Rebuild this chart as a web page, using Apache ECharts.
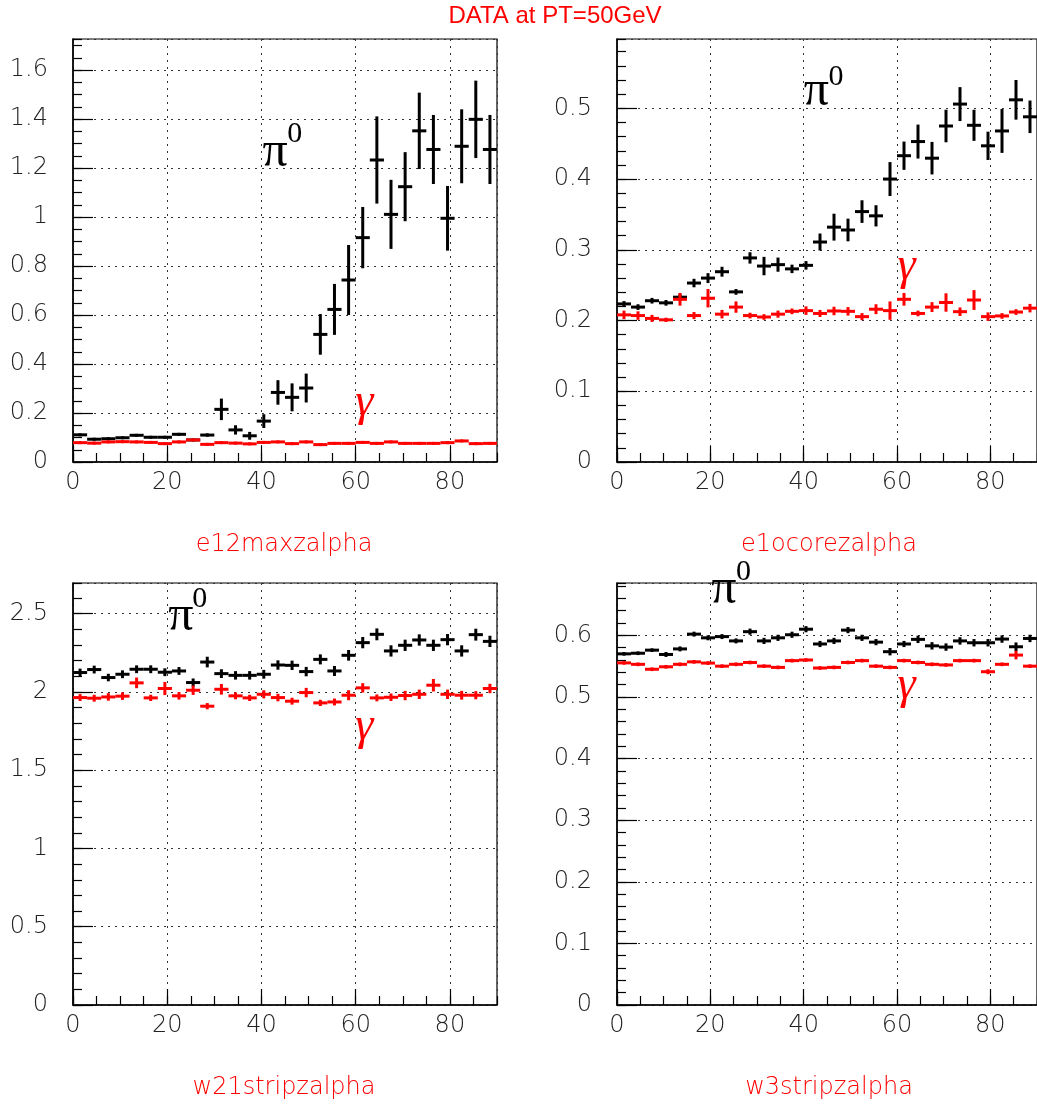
<!DOCTYPE html>
<html>
<head>
<meta charset="utf-8">
<script src="https://cdn.jsdelivr.net/npm/echarts@6/dist/echarts.min.js"></script>
<style>
html,body{margin:0;padding:0;background:#fff;}
#main{width:1037px;height:1106px;}
</style>
</head>
<body>
<div id="main"></div>
<script>
// ---- data ----
const xBins = [1.5,4.5,7.5,10.5,13.5,16.5,19.5,22.5,25.5,28.5,31.5,34.5,37.5,40.5,43.5,46.5,49.5,52.5,55.5,58.5,61.5,64.5,67.5,70.5,73.5,76.5,79.5,82.5,85.5,88.5];
const binHalfWidth = 1.5;

// e12maxzalpha
const e12Pi     = [0.111,0.093,0.095,0.099,0.109,0.101,0.101,0.113,0.090,0.110,0.215,0.131,0.107,0.167,0.284,0.264,0.302,0.521,0.623,0.743,0.916,1.233,1.011,1.124,1.352,1.276,0.995,1.289,1.399,1.276];
const e12PiErr  = [0.006,0.005,0.005,0.006,0.006,0.005,0.005,0.006,0.005,0.007,0.044,0.019,0.016,0.028,0.050,0.057,0.059,0.083,0.104,0.143,0.125,0.178,0.141,0.141,0.156,0.141,0.132,0.151,0.158,0.141];
const e12Gam    = [0.079,0.077,0.082,0.083,0.082,0.080,0.075,0.082,0.090,0.072,0.079,0.077,0.074,0.080,0.082,0.075,0.082,0.071,0.076,0.076,0.080,0.076,0.082,0.076,0.076,0.076,0.079,0.086,0.075,0.076];
const e12GamErr = [0.004,0.004,0.004,0.004,0.004,0.004,0.004,0.004,0.004,0.004,0.004,0.004,0.004,0.004,0.004,0.004,0.004,0.004,0.004,0.004,0.004,0.004,0.004,0.004,0.004,0.004,0.004,0.004,0.004,0.004];

// e1ocorezalpha
const e1oPi     = [0.2235,0.219,0.228,0.225,0.233,0.253,0.260,0.269,0.2405,0.2885,0.277,0.279,0.273,0.278,0.311,0.332,0.328,0.354,0.348,0.400,0.433,0.453,0.4295,0.475,0.506,0.476,0.447,0.468,0.512,0.488];
const e1oPiErr  = [0.004,0.004,0.004,0.004,0.005,0.006,0.007,0.007,0.004,0.008,0.013,0.010,0.006,0.006,0.012,0.019,0.016,0.016,0.015,0.024,0.020,0.024,0.023,0.023,0.024,0.022,0.020,0.031,0.028,0.023];
const e1oGam    = [0.208,0.207,0.203,0.201,0.230,0.207,0.2315,0.209,0.219,0.207,0.205,0.209,0.213,0.214,0.210,0.2135,0.213,0.2055,0.216,0.214,0.230,0.210,0.219,0.2255,0.2125,0.229,0.2055,0.2065,0.212,0.2175];
const e1oGamErr = [0.006,0.006,0.005,0.003,0.009,0.005,0.013,0.006,0.008,0.004,0.004,0.005,0.004,0.006,0.005,0.006,0.006,0.005,0.007,0.013,0.009,0.004,0.007,0.013,0.006,0.014,0.006,0.004,0.004,0.006];

// w21stripzalpha
const w21Pi     = [2.124,2.143,2.092,2.113,2.145,2.145,2.126,2.134,2.060,2.191,2.117,2.106,2.106,2.113,2.172,2.170,2.130,2.208,2.134,2.234,2.315,2.368,2.262,2.298,2.332,2.298,2.334,2.262,2.366,2.323];
const w21PiErr  = [0.025,0.025,0.024,0.025,0.025,0.025,0.025,0.025,0.026,0.034,0.028,0.027,0.027,0.028,0.030,0.030,0.030,0.032,0.032,0.034,0.036,0.038,0.036,0.036,0.036,0.036,0.036,0.036,0.038,0.036];
const w21Gam    = [1.964,1.960,1.968,1.973,2.058,1.962,2.022,1.975,2.011,1.909,2.017,1.975,1.962,1.985,1.964,1.941,1.996,1.930,1.936,1.979,2.026,1.962,1.966,1.977,1.985,2.043,1.985,1.979,1.979,2.022];
const w21GamErr = [0.022,0.022,0.024,0.024,0.034,0.020,0.042,0.024,0.030,0.020,0.034,0.022,0.020,0.026,0.024,0.022,0.030,0.020,0.022,0.032,0.030,0.022,0.024,0.030,0.030,0.040,0.030,0.028,0.026,0.030];

// w3stripzalpha
const w3Pi      = [0.570,0.571,0.576,0.569,0.578,0.602,0.596,0.598,0.591,0.606,0.591,0.596,0.601,0.610,0.586,0.591,0.6085,0.596,0.589,0.5735,0.586,0.5935,0.583,0.581,0.591,0.588,0.588,0.594,0.5815,0.595];
const w3PiErr   = [0.003,0.003,0.003,0.004,0.004,0.004,0.004,0.004,0.004,0.005,0.005,0.005,0.005,0.005,0.005,0.005,0.005,0.005,0.005,0.006,0.005,0.006,0.006,0.006,0.006,0.006,0.006,0.006,0.007,0.006];
const w3Gam     = [0.5553,0.553,0.545,0.549,0.553,0.557,0.555,0.550,0.553,0.556,0.550,0.548,0.559,0.560,0.547,0.548,0.556,0.559,0.550,0.548,0.559,0.556,0.553,0.552,0.559,0.559,0.541,0.553,0.568,0.550];
const w3GamErr  = [0.003,0.003,0.003,0.003,0.003,0.003,0.003,0.003,0.003,0.003,0.003,0.003,0.003,0.003,0.003,0.003,0.003,0.003,0.003,0.003,0.003,0.003,0.003,0.003,0.003,0.003,0.004,0.003,0.007,0.003];

// axes
const xMin = 0, xMax = 90, xMajor = 20, xMinor = 5;
const yMaxs   = [1.727, 0.598, 2.696, 0.685];
const yMajors = [0.2, 0.1, 0.5, 0.1];
const yMinors = [0.05, 0.02, 0.1, 0.02];

// text
const mainTitle = 'DATA at PT=50GeV';
const panelTitles = ['e12maxzalpha', 'e1ocorezalpha', 'w21stripzalpha', 'w3stripzalpha'];
// annotation anchors (data coords: left edge, glyph centre)
const piPos  = [[40.2, 1.245], [40.0, 0.517], [20.2, 2.451], [20.2, 0.667]];
const supPos = [[45.5, 1.339], [45.3, 0.5446], [25.3, 2.591], [25.5, 0.7026]];
const gamPos = [[59.9, 0.224], [60.1, 0.270], [59.9, 1.749], [60.1, 0.5115]];

// ---- chart ----
const panels = [
  {pi: e12Pi, piErr: e12PiErr, gam: e12Gam, gamErr: e12GamErr},
  {pi: e1oPi, piErr: e1oPiErr, gam: e1oGam, gamErr: e1oGamErr},
  {pi: w21Pi, piErr: w21PiErr, gam: w21Gam, gamErr: w21GamErr},
  {pi: w3Pi,  piErr: w3PiErr,  gam: w3Gam,  gamErr: w3GamErr}
];
const grids = [
  {left: 73,  top: 39,  width: 424, height: 423},
  {left: 617, top: 39,  width: 424, height: 423},
  {left: 73,  top: 583, width: 424, height: 422},
  {left: 617, top: 583, width: 424, height: 422}
];

const labelFont = {fontFamily: 'DejaVu Sans', fontSize: 24, fontWeight: 200, color: '#222'};
const gridLine = {show: true, lineStyle: {color: '#333', width: 1, type: [2, 5]}};

const xAxes = [], yAxes = [], series = [];
function build(values, errs) {
  return xBins.map((x, i) => [x, values[i], errs[i]]);
}
function renderErr(params, api) {
  const x = api.value(0), y = api.value(1), e = api.value(2);
  const color = api.visual('color');
  const l = api.coord([x - binHalfWidth, y]);
  const r = api.coord([x + binHalfWidth, y]);
  const t = api.coord([x, y + e]);
  const b = api.coord([x, y - e]);
  const st = {stroke: color, lineWidth: 3};
  return {type: 'group', children: [
    {type: 'line', shape: {x1: l[0], y1: l[1], x2: r[0], y2: r[1]}, style: st},
    {type: 'line', shape: {x1: t[0], y1: Math.min(t[1], l[1] - 1.5), x2: b[0], y2: Math.max(b[1], l[1] + 1.5)}, style: st}
  ]};
}

panels.forEach((p, k) => {
  xAxes.push({
    gridIndex: k, type: 'value', min: xMin, max: xMax, interval: xMajor, position: 'bottom',
    axisLine: {show: true, onZero: false, lineStyle: {color: '#000', width: 1.5}},
    axisTick: {show: true, inside: true, length: 16, lineStyle: {color: '#000', width: 1.2}},
    axisLabel: Object.assign({showMaxLabel: false, margin: 9}, labelFont),
    splitLine: gridLine
  });
  xAxes.push({
    gridIndex: k, type: 'value', min: xMin, max: xMax, interval: xMinor, position: 'bottom',
    axisLine: {show: false, onZero: false},
    axisTick: {show: true, inside: true, length: 9, lineStyle: {color: '#000', width: 1.2}},
    axisLabel: {show: false}, splitLine: {show: false}
  });
  yAxes.push({
    gridIndex: k, type: 'value', min: 0, max: yMaxs[k], interval: yMajors[k], position: 'left',
    axisLine: {show: true, onZero: false, lineStyle: {color: '#000', width: 1.5}},
    axisTick: {show: true, inside: true, length: 20, lineStyle: {color: '#000', width: 1.2}},
    axisLabel: Object.assign({showMaxLabel: false, margin: 25}, labelFont),
    splitLine: gridLine
  });
  yAxes.push({
    gridIndex: k, type: 'value', min: 0, max: yMaxs[k], interval: yMinors[k], position: 'left',
    axisLine: {show: false, onZero: false},
    axisTick: {show: true, inside: true, length: 9, lineStyle: {color: '#000', width: 1.2}},
    axisLabel: {show: false}, splitLine: {show: false}
  });
  series.push({
    type: 'custom', name: 'pi0', xAxisIndex: 2 * k, yAxisIndex: 2 * k, clip: true,
    itemStyle: {color: '#000'}, renderItem: renderErr, data: build(p.pi, p.piErr), animation: false
  });
  series.push({
    type: 'custom', name: 'gamma', xAxisIndex: 2 * k, yAxisIndex: 2 * k, clip: true,
    itemStyle: {color: '#ff0000'}, renderItem: renderErr, data: build(p.gam, p.gamErr), animation: false
  });
});

const chart = echarts.init(document.getElementById('main'), null, {renderer: 'canvas'});
chart.setOption({
  animation: false,
  backgroundColor: '#fff',
  grid: grids.map(g => Object.assign({show: true, borderColor: '#000', borderWidth: 1.2, containLabel: false}, g)),
  xAxis: xAxes,
  yAxis: yAxes,
  series: series
});

// texts
const subCenters = [[284, 545], [829, 545], [284, 1088], [829, 1088]];
const graphics = [{
  type: 'text', x: 555, y: 16,
  style: {text: mainTitle, fill: '#ff0000', font: '24px "Liberation Sans"', align: 'center', verticalAlign: 'middle'}
}];
panelTitles.forEach((t, k) => {
  graphics.push({type: 'text', x: subCenters[k][0], y: subCenters[k][1],
    style: {text: t, fill: '#ff0000', font: '200 24px "DejaVu Sans"', align: 'center', verticalAlign: 'middle'}});
});
for (let k = 0; k < 4; k++) {
  const idx = {xAxisIndex: 2 * k, yAxisIndex: 2 * k};
  const a = chart.convertToPixel(idx, piPos[k]);
  const s = chart.convertToPixel(idx, supPos[k]);
  const g = chart.convertToPixel(idx, gamPos[k]);
  graphics.push({type: 'text', x: a[0], y: a[1] - 4,
    style: {text: 'π', fill: '#000', font: '50px "Liberation Serif"', align: 'left', verticalAlign: 'middle'}});
  graphics.push({type: 'text', x: s[0], y: s[1],
    style: {text: '0', fill: '#000', font: '30px "Liberation Serif"', align: 'left', verticalAlign: 'middle'}});
  graphics.push({type: 'text', x: g[0], y: g[1] - 4,
    style: {text: 'γ', fill: '#ff0000', font: 'italic 46px "Liberation Serif"', align: 'left', verticalAlign: 'middle'}});
}
chart.setOption({graphic: graphics});
</script>
</body>
</html>
